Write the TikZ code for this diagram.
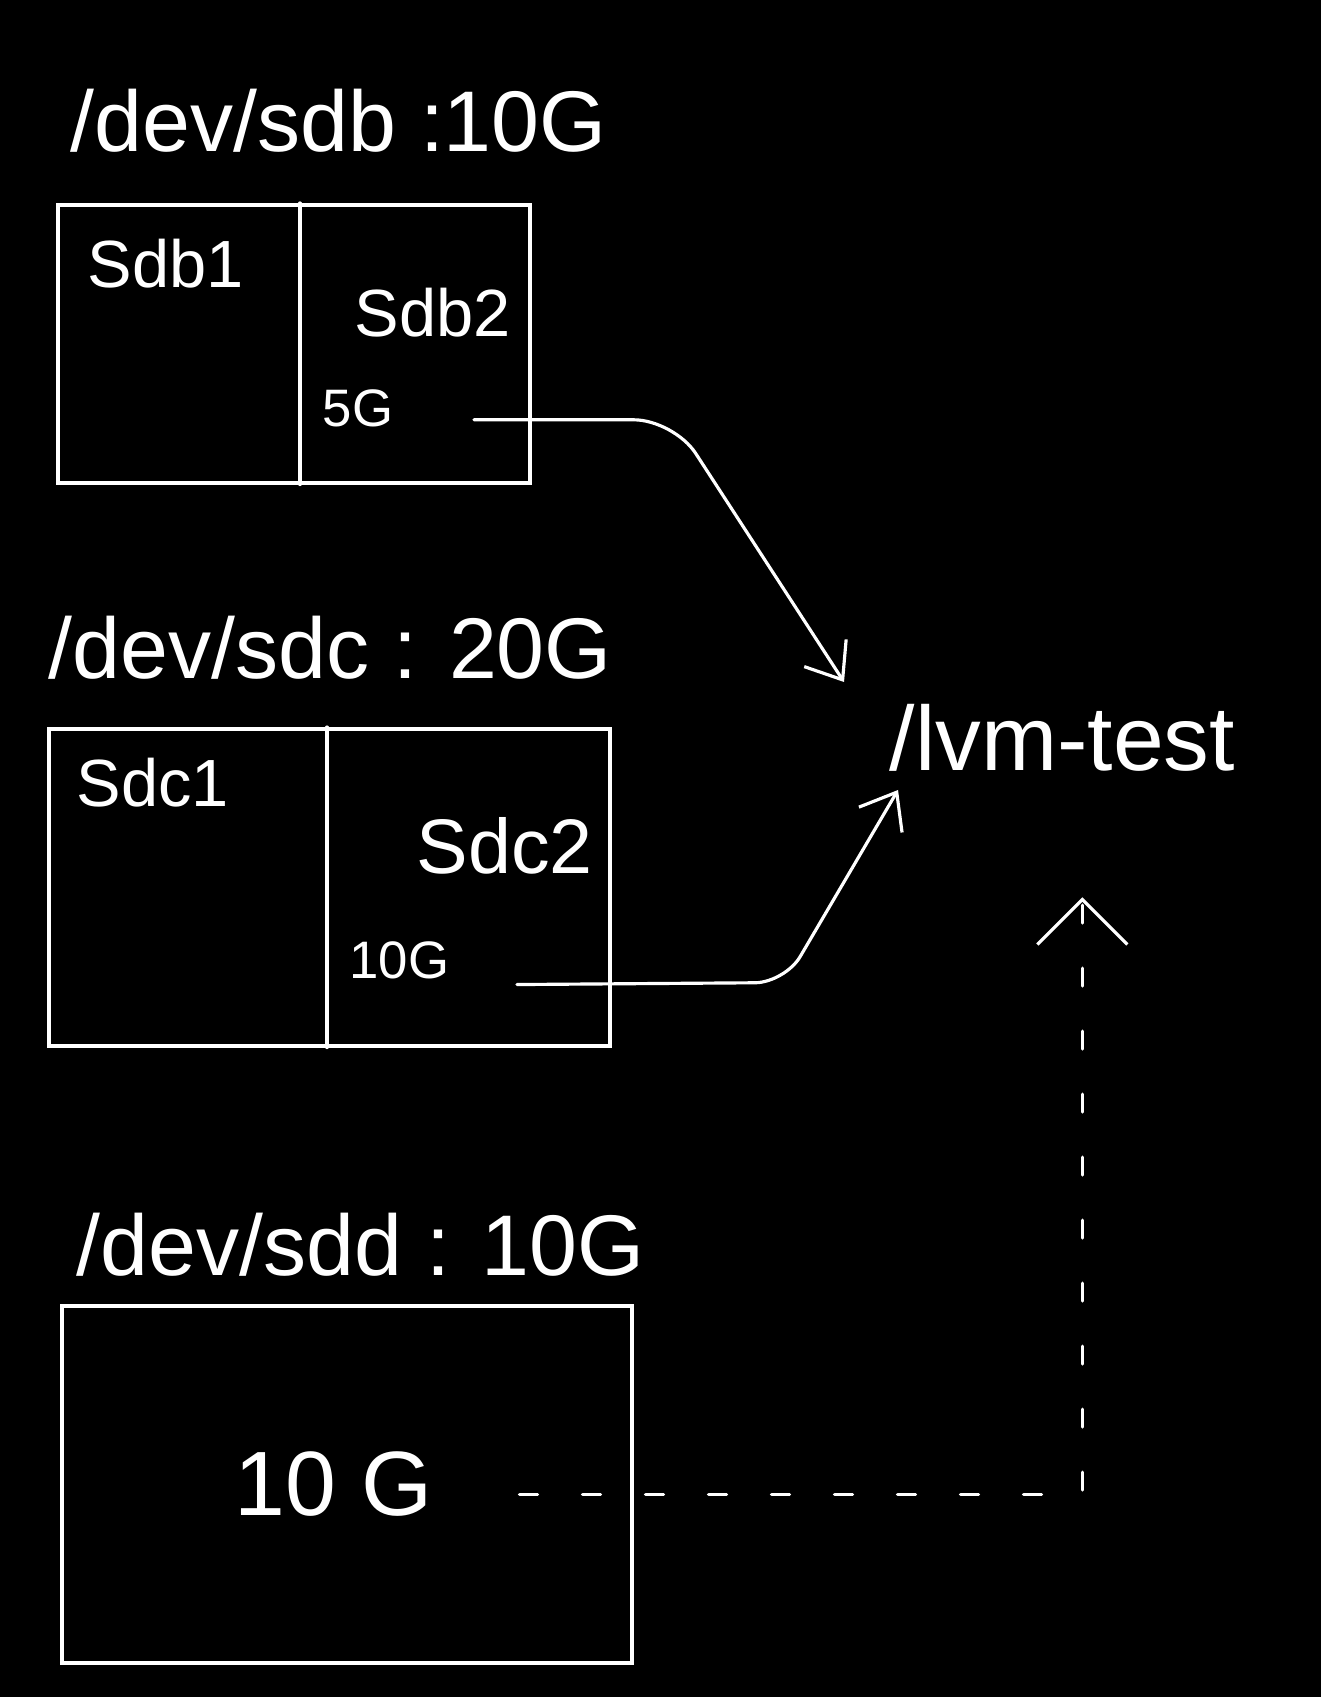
\documentclass[tikz,border=0pt]{standalone}
\usepackage{fontspec}
\setmainfont{Liberation Sans}
\usetikzlibrary{arrows.meta,positioning,calc}
\begin{document}
\begin{tikzpicture}[
  x=0.1mm, y=0.1mm,
  every node/.style={text=white, inner sep=0pt},
  disk/.style={
    draw=white,
    line width=1pt,
    anchor=north west,
    inner sep=0pt
  },
  title/.style={font=\fontsize{24.5}{28}\selectfont},
  part/.style={font=\fontsize{19}{22}\selectfont},
  size/.style={font=\fontsize{15}{18}\selectfont},
  wire/.style={draw=white, line width=0.9pt, line cap=round},
  flow/.style={wire, -{Straight Barb[length=3.2mm,width=5mm]}},
  lazy/.style={wire, dash pattern=on 1.8mm off 4.5mm, -{Straight Barb[length=4.5mm,width=9mm]}}
]
\useasboundingbox (0,0) rectangle (1321,-1697);
\fill[black] (0,0) rectangle (1321,-1697);

\node[disk, minimum width=47.2mm, minimum height=27.8mm] (sdb) at (56,-203) {};
\node[disk, minimum width=56.1mm, minimum height=31.7mm] (sdc) at (47,-727) {};
\node[disk, minimum width=57mm, minimum height=35.7mm] (sdd) at (60,-1304) {};

\node[title, above right=5mm and 1.4mm of sdb.north west] (sdbtitle) {/dev/sdb :10G};
\node[title, above right=4.7mm and 0.1mm of sdc.north west] (sdctitle) {/dev/sdc : 20G};
\node[title, above right=2.7mm and 1.6mm of sdd.north west] (sddtitle) {/dev/sdd : 10G};

\draw[wire] ($(sdb.north west)!0.513!(sdb.north east)$) -- ($(sdb.south west)!0.513!(sdb.south east)$);
\draw[wire] ($(sdc.north west)!0.496!(sdc.north east)$) -- ($(sdc.south west)!0.496!(sdc.south east)$);

\node[part, below right=3.5mm and 3.1mm of sdb.north west] (sdb1) {Sdb1};
\node[part, below left=8.4mm and 2mm of sdb.north east] (sdb2) {Sdb2};
\node[size, below=5.2mm of sdb2.south west, anchor=north west, xshift=-3.2mm] (sdb2size) {5G};

\node[part, below right=3mm and 2.9mm of sdc.north west] (sdc1) {Sdc1};
\node[part, font=\fontsize{22}{26}\selectfont, below left=9mm and 1.8mm of sdc.north east] (sdc2) {Sdc2};
\node[size, below=6.6mm of sdc2.south west, anchor=north west, xshift=-6.7mm] (sdc2size) {10G};

\node[font=\fontsize{26}{30}\selectfont, xshift=-1.3mm] (sddsize) at (sdd.center) {10 G};

\node[font=\fontsize{26}{30}\selectfont, anchor=west] (lvm) at (889,-738) {/lvm-test};

\draw[flow, rounded corners=4mm] ([xshift=8mm,yshift=-1.1mm]sdb2size.east)
  -- ([xshift=28mm,yshift=-1.1mm]sdb2size.east)
  -- ([xshift=-4.5mm,yshift=5.6mm]lvm.west);
\draw[flow, rounded corners=3mm] ([xshift=6.7mm,yshift=-2.4mm]sdc2size.east)
  -- ([xshift=33.5mm,yshift=-2.2mm]sdc2size.east)
  -- ([xshift=0.9mm,yshift=-5.2mm]lvm.west);
\draw[lazy] ([xshift=8.6mm,yshift=-1mm]sddsize.east) -| ([xshift=2mm,yshift=-12.5mm]lvm.south);
\end{tikzpicture}
\end{document}
